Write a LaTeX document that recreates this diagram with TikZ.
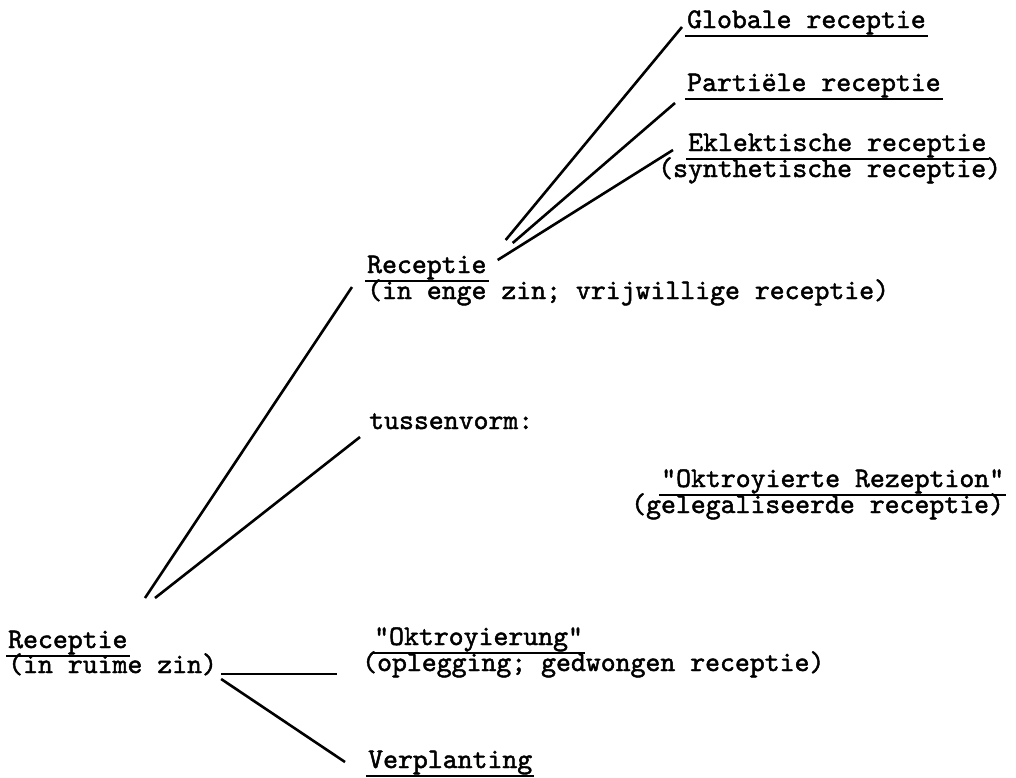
\documentclass[tikz,border=0pt]{standalone}
\usepackage{fontspec}
\newfontfamily\twfont{lmmono10-regular.otf}[FakeBold=1.6]
\begin{document}
\begin{tikzpicture}[x=1pt,y=-1pt,
  lbl/.style={font=\twfont\fontsize{28.4}{30}\selectfont, inner sep=0pt, anchor=base west},
  ul/.style={line width=1.6pt},
  conn/.style={line width=2.6pt}]
\useasboundingbox[fill=white] (0,0) rectangle (1016,777);
\newcommand\ulin[1]{\draw[ul] ([shift={(-2,8)}]#1.base west) -- ([shift={(2,8)}]#1.base east);}
% labels
\node[lbl] (glob) at (687,28) {Globale receptie};
\node[lbl] (part) at (687,91) {Partiële receptie};
\node[lbl] (ekl) at (688,151) {Eklektische receptie};
\node[lbl] (synth) at (658,177) {(synthetische receptie)};
\node[lbl] (rec2) at (367,273) {Receptie};
\node[lbl] (enge) at (367,299) {(in enge zin; vrijwillige receptie)};
\node[lbl] (tus) at (369,429) {tussenvorm:};
\node[lbl] (okt) at (661,487) {"Oktroyierte Rezeption"};
\node[lbl] (gel) at (631,513) {(gelegaliseerde receptie)};
\node[lbl] (rec1) at (8,648) {Receptie};
\node[lbl] (ruime) at (8,673) {(in ruime zin)};
\node[lbl] (okg) at (374,645) {"Oktroyierung"};
\node[lbl] (opl) at (362,671) {(oplegging; gedwongen receptie)};
\node[lbl] (verp) at (368,768) {Verplanting};
% underlines
\ulin{glob}\ulin{part}\ulin{ekl}\ulin{rec2}\ulin{okt}\ulin{rec1}\ulin{okg}\ulin{verp}
% connectors
\draw[conn] ([shift={(19,-33)}]rec2.base east) -- ([shift={(-5,-1)}]glob.base west);
\draw[conn] ([shift={(26,-30)}]rec2.base east) -- ([shift={(-12,12)}]part.base west);
\draw[conn] ([shift={(11,-13)}]rec2.base east) -- ([shift={(-15,-1)}]ekl.base west);
\draw[conn] ([shift={(137,-50)}]rec1.base west) -- ([shift={(-15,-12)}]enge.base west);
\draw[conn] ([shift={(147,-50)}]rec1.base west) -- ([shift={(-9,8)}]tus.base west);
\draw[conn] ([shift={(4,1)}]ruime.base east) -- ([shift={(-25,3)}]opl.base west);
\draw[conn] ([shift={(4,6)}]ruime.base east) -- ([shift={(-23,-6)}]verp.base west);
\end{tikzpicture}
\end{document}
